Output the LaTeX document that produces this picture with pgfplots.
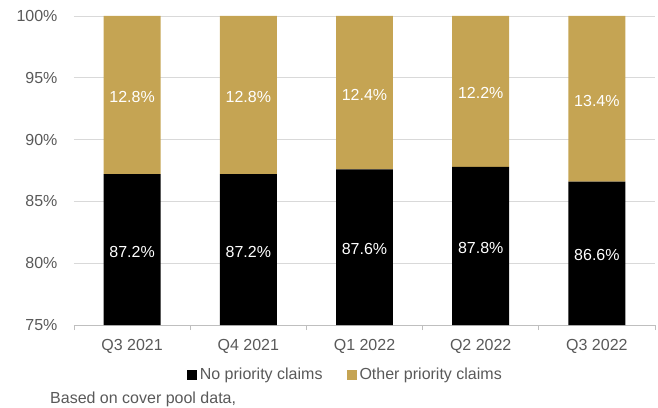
\documentclass[border=0pt]{standalone}
\usepackage{fontspec}
\setmainfont{Liberation Sans}
\usepackage{pgfplots}
\usepackage{pgfplotstable}
\pgfplotsset{compat=1.18}
\definecolor{gold}{HTML}{C5A453}
\definecolor{txt}{HTML}{595959}
\definecolor{gridc}{HTML}{D9D9D9}
\definecolor{axisc}{HTML}{BFBFBF}

\pgfplotstableread{
x no other
0 87.2 12.8
1 87.2 12.8
2 87.6 12.4
3 87.8 12.2
4 86.6 13.4
}\claims

\begin{document}
\fontsize{16}{19}\selectfont
\begin{tikzpicture}[font=\fontsize{16}{19}\selectfont]
\path[use as bounding box] (-74pt,-82pt) rectangle (584pt,325pt);
\begin{axis}[
    at={(0pt,0pt)}, anchor=south west,
    scale only axis, width=581pt, height=309pt,
    ybar stacked, bar width=0.49,
    xmin=-0.5, xmax=4.5, ymin=75, ymax=100,
    axis lines*=left,
    x axis line style={draw=axisc, line width=0.8pt},
    y axis line style={draw=none},
    xtick={0,...,4},
    xticklabels={Q3 2021,Q4 2021,Q1 2022,Q2 2022,Q3 2022},
    minor xtick={-0.5,0.5,...,4.5},
    ytick={75,80,...,100},
    yticklabels={75\%,80\%,85\%,90\%,95\%,100\%},
    major tick length=0pt, minor tick length=5pt, tick align=outside,
    tick style={draw=axisc, line width=0.8pt},
    ymajorgrids, grid style={draw=gridc, line width=0.8pt},
    xticklabel style={text=txt, yshift=-9pt},
    yticklabel style={text=txt, xshift=-11pt},
    legend style={at={(0.467,-0.162)}, anchor=center, draw=none, fill=none,
        legend columns=2, text=txt, inner sep=0pt,
        /tikz/every even column/.append style={column sep=22pt}},
    legend cell align=left,
]
\addplot[fill=black, draw=none,
    legend image code/.code={\fill[black] (0pt,-5pt) rectangle (10pt,5pt);}]
    table[x=x, y=no] {\claims};
\addlegendentry{\hspace{1pt}No priority claims}
\addplot[fill=gold, draw=none,
    legend image code/.code={\fill[gold] (0pt,-5pt) rectangle (10pt,5pt);}]
    table[x=x, y=other] {\claims};
\addlegendentry{\hspace{1pt}Other priority claims}

\coordinate (n0) at (axis cs:0,81.1);
\coordinate (n1) at (axis cs:1,81.1);
\coordinate (n2) at (axis cs:2,81.3);
\coordinate (n3) at (axis cs:3,81.4);
\coordinate (n4) at (axis cs:4,80.8);
\coordinate (o0) at (axis cs:0,93.6);
\coordinate (o1) at (axis cs:1,93.6);
\coordinate (o2) at (axis cs:2,93.8);
\coordinate (o3) at (axis cs:3,93.9);
\coordinate (o4) at (axis cs:4,93.3);
\end{axis}
\begin{scope}[every node/.style={text=white, yshift=-2pt}]
\node at (n0) {87.2\%};
\node at (n1) {87.2\%};
\node at (n2) {87.6\%};
\node at (n3) {87.8\%};
\node at (n4) {86.6\%};
\node at (o0) {12.8\%};
\node at (o1) {12.8\%};
\node at (o2) {12.4\%};
\node at (o3) {12.2\%};
\node at (o4) {13.4\%};
\end{scope}
\node[anchor=base west, inner sep=0pt, text=txt] at (-24pt,-78.5pt) {Based on cover pool data,};
\end{tikzpicture}
\end{document}
